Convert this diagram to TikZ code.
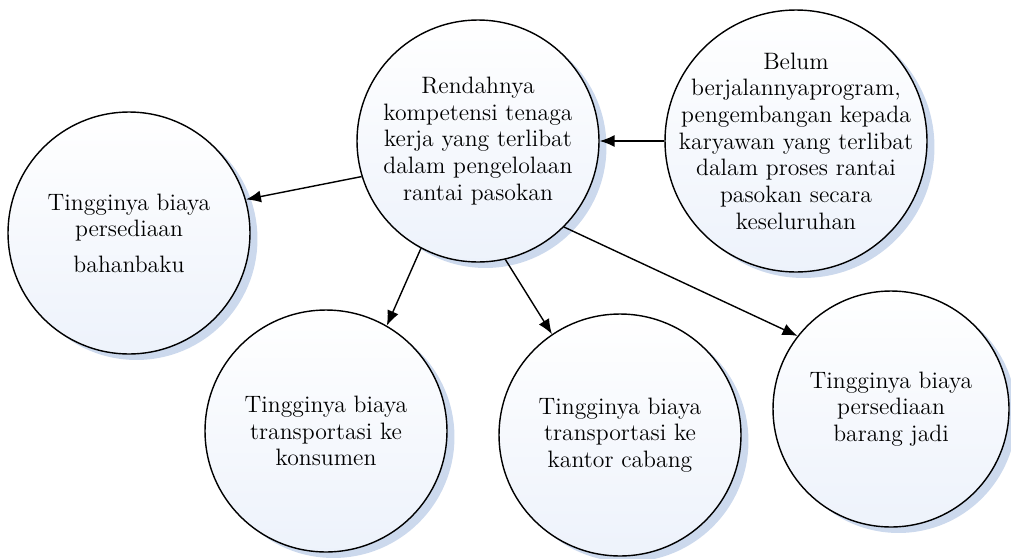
\documentclass[tikz,border=0pt]{standalone}
\usetikzlibrary{arrows.meta,shadows}
\definecolor{FillClr}{rgb}{0.93,0.95,0.985}
\definecolor{ShadowClr}{rgb}{0.80,0.85,0.93}

\begin{document}
\begin{tikzpicture}[x=0.02cm,y=-0.02cm,
  bubble/.style={circle,draw=black,line width=0.8pt,minimum size=4.84cm,inner sep=0pt,
    top color=white,bottom color=FillClr,align=center,
    font=\fontsize{13.5}{15.2}\selectfont,
    drop shadow={shadow xshift=0.15cm,shadow yshift=-0.12cm,fill=ShadowClr,opacity=1}},
  arr/.style={-{Latex[length=0.3cm,width=0.24cm]},line width=0.8pt}]
\useasboundingbox (0,0) rectangle (1011,558);

\node[bubble] (Rendah) at (478,141) {Rendahnya\\kompetensi tenaga\\kerja yang terlibat\\dalam pengelolaan\\rantai pasokan};
\node[bubble,minimum size=5.24cm,inner sep=-0.4cm] (Belum) at (796,141) {Belum\\berjalannyaprogram,\\pengembangan kepada\\karyawan yang terlibat\\dalam proses rantai\\pasokan secara\\keseluruhan};
\node[bubble] (Bahan) at (129,233) {Tingginya biaya\\persediaan\\[5pt]bahanbaku};
\node[bubble] (Konsumen) at (326,431) {Tingginya biaya\\transportasi ke\\konsumen};
\node[bubble] (Cabang) at (620,435) {Tingginya biaya\\transportasi ke\\kantor cabang};
\node[bubble,minimum size=4.72cm] (Jadi) at (891,409) {Tingginya biaya\\persediaan\\barang jadi};

\draw[arr] (Belum.west) -- (Rendah.east);
\draw[arr] (Rendah.197) -- (Bahan.16);
\draw[arr] (Rendah.242) -- (Konsumen.60);
\draw[arr] (Rendah.283) -- (Cabang.124);
\draw[arr] (Rendah.315) -- (Jadi.142);
\end{tikzpicture}
\end{document}
